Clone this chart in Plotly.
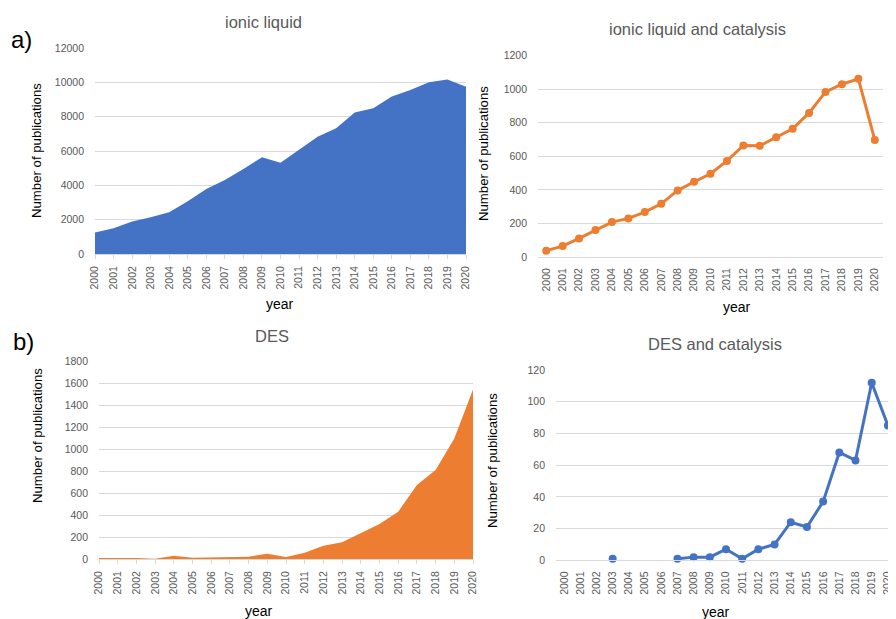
import plotly.graph_objects as go

years = list(range(2000, 2021))
year_labels = [str(y) for y in years]

il_pubs = [1250, 1500, 1900, 2140, 2430, 3070, 3790, 4310, 4950, 5630, 5320,
           6060, 6830, 7320, 8250, 8490, 9170, 9550, 10000, 10160, 9750]
il_cat_pubs = [38, 65, 111, 161, 208, 230, 268, 317, 397, 448, 496,
               573, 665, 663, 714, 764, 859, 984, 1030, 1062, 698]
des_pubs = [9, 10, 10, 3, 30, 12, 15, 21, 21, 48, 18,
            58, 122, 152, 234, 319, 432, 675, 811, 1100, 1547]
des_cat_pubs = [None, None, None, 1, None, None, None, 1, 2, 2, 7,
                1, 7, 10, 24, 21, 37, 68, 63, 112, 85]

BLUE = "#4472C4"
ORANGE = "#ED7D31"
GRID = "#d9d9d9"
TICK = "#595959"
OFF = 8  # page body margin
W, H = 896 - OFF, 619 - OFF
FONT = "Liberation Sans"

def px_x(x):
    return (x - OFF) / W

def px_y(y):
    return (H - (y - OFF)) / H

fig = go.Figure()

fig.add_trace(go.Scatter(x=years, y=il_pubs, mode="lines", fill="tozeroy",
                         fillcolor=BLUE, line=dict(color=BLUE, width=0),
                         xaxis="x", yaxis="y", showlegend=False))
fig.add_trace(go.Scatter(x=years, y=il_cat_pubs, mode="lines+markers",
                         line=dict(color=ORANGE, width=3),
                         marker=dict(color=ORANGE, size=8),
                         xaxis="x2", yaxis="y2", showlegend=False))
fig.add_trace(go.Scatter(x=years, y=des_pubs, mode="lines", fill="tozeroy",
                         fillcolor=ORANGE, line=dict(color=ORANGE, width=0),
                         xaxis="x3", yaxis="y3", showlegend=False))
fig.add_trace(go.Scatter(x=years, y=des_cat_pubs, mode="lines+markers",
                         connectgaps=False, cliponaxis=False,
                         line=dict(color=BLUE, width=3),
                         marker=dict(color=BLUE, size=8),
                         xaxis="x4", yaxis="y4", showlegend=False))

tickfont = dict(family=FONT, size=10.5, color=TICK)

def xaxis(dom, rng, anchor, area):
    d = dict(domain=[px_x(dom[0]), min(1.0, px_x(dom[1]))], range=rng, anchor=anchor,
             tickmode="array", tickvals=years, ticktext=year_labels,
             tickangle=-90, tickfont=tickfont, showgrid=False, zeroline=False,
             showline=True, linecolor=GRID, linewidth=1, automargin=False,
             ticklabelstandoff=3)
    if area:
        d.update(ticks="outside", ticklen=4, tickcolor=GRID)
    else:
        d.update(ticks="", ticklabelstandoff=6)
    return d

def yaxis(dom, rng, dtick, anchor):
    return dict(domain=[px_y(dom[1]), px_y(dom[0])], range=rng, anchor=anchor,
                dtick=dtick, tick0=0, tickformat="d", tickfont=tickfont,
                showgrid=True, automargin=False,
                gridcolor=GRID, gridwidth=1, zeroline=False, showline=False,
                ticks="", ticklabelstandoff=10)

fig.update_layout(
    width=W, height=H, margin=dict(l=0, r=0, t=0, b=0, autoexpand=False),
    paper_bgcolor="white", plot_bgcolor="white",
    xaxis=xaxis((95, 466), [2000, 2020], "y", True),
    yaxis=yaxis((48, 254), [0, 12000], 2000, "x"),
    xaxis2=xaxis((538, 883), [1999.5, 2020.5], "y2", False),
    yaxis2=yaxis((55.7, 257), [0, 1200], 200, "x2"),
    xaxis3=xaxis((99, 473), [2000, 2020], "y3", True),
    yaxis3=yaxis((361.7, 559), [0, 1800], 200, "x3"),
    xaxis4=xaxis((556, 896), [1999.5, 2020.5], "y4", False),
    yaxis4=yaxis((370, 560.3), [0, 120], 20, "x4"),
)

def ann(text, x, y, size, color, angle=0, bold=False):
    fig.add_annotation(text=text, x=px_x(x), y=px_y(y), xref="paper", yref="paper",
                       showarrow=False, textangle=angle, xanchor="center", yanchor="middle",
                       font=dict(family=FONT, size=size, color=color,
                                 weight="bold" if bold else "normal"))

# panel labels
ann("a)", 22, 39, 24, "black")
ann("b)", 23, 341, 24, "black")

# titles
ann("ionic liquid", 263, 22, 16.5, TICK)
ann("ionic liquid and catalysis", 697, 29, 16.5, TICK)
ann("DES", 272, 336, 16.5, TICK)
ann("DES and catalysis", 715, 344, 16.5, TICK)

# y-axis titles
ann("Number of publications", 36, 151, 13.2, "black", angle=-90)
ann("Number of publications", 483, 154, 13.2, "black", angle=-90)
ann("Number of publications", 38, 436, 13.2, "black", angle=-90)
ann("Number of publications", 493, 461, 13.2, "black", angle=-90)

# x-axis titles
ann("year", 280, 304, 14, "black")
ann("year", 737, 307, 14, "black")
ann("year", 259, 611, 14, "black")
ann("year", 716, 612, 14, "black")

fig.write_html("out.html")
